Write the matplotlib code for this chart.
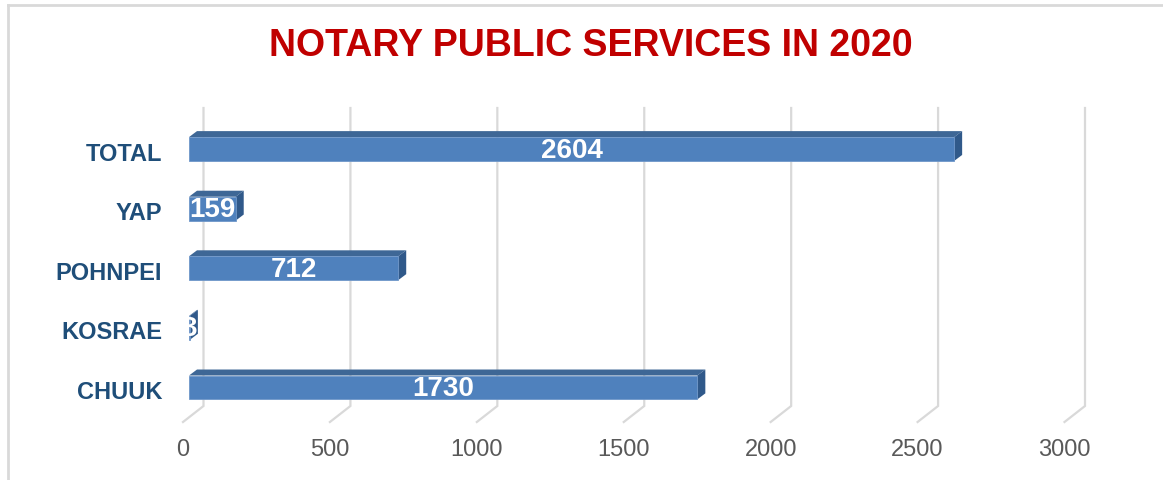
import matplotlib
matplotlib.use("Agg")
import matplotlib.pyplot as plt
from matplotlib.patches import Rectangle, Polygon
from matplotlib.lines import Line2D

categories = ["CHUUK", "KOSRAE", "POHNPEI", "YAP", "TOTAL"]
services = [1730, 3, 712, 159, 2604]
x_ticks = [0, 500, 1000, 1500, 2000, 2500, 3000]
tick_labels = ["0", "500", "1000", "1500", "2000", "2500", "3000"]
title = "NOTARY PUBLIC SERVICES IN 2020"

W, H = 1163, 480
fig = plt.figure(figsize=(W / 100, H / 100), dpi=100)
fig.patch.set_facecolor("white")

# chart border (top and left edges visible)
fig.add_artist(Line2D([8 / W, 8 / W], [0, 1 - 5 / H], transform=fig.transFigure,
                      color="#d9d9d9", lw=2))
fig.add_artist(Line2D([8 / W, 1], [1 - 5 / H, 1 - 5 / H], transform=fig.transFigure,
                      color="#d9d9d9", lw=2))

ax_left, ax_w = 189, 881.5
ax_top, ax_bot = 124, 422
ax = fig.add_axes([ax_left / W, 1 - ax_bot / H, ax_w / W, (ax_bot - ax_top) / H])
ax.set_xlim(0, 3000)
ylo, yhi = -0.58, 4.42
ax.set_ylim(ylo, yhi)
ax.axis("off")

px_x = ax_w / 3000.0               # pixels per data unit (x)
px_y = (ax_bot - ax_top) / (yhi - ylo)  # pixels per category (y)


def dx(p):
    return p / px_x


def dy(p):
    return p / px_y


# walls: back gridlines with slanted floor feet
back_dx, back_dy = dx(14.5), dy(16)
front_dx = dx(-6)
for t in x_ticks:
    xs = [t + back_dx, t + back_dx, t + front_dx]
    ys = [yhi + back_dy, ylo + back_dy, ylo]
    ax.add_line(Line2D(xs, ys, color="#d9d9d9", lw=1.6, zorder=1,
                       solid_joinstyle="miter", clip_on=False))

# 3D bars
bar_h = 0.40
depth_x, depth_y = dx(8), dy(6)
front_c, top_c, side_c = "#4F81BD", "#3E6796", "#30598A"
for i, v in enumerate(services):
    y0, y1 = i - bar_h / 2, i + bar_h / 2
    top = Polygon([(0, y1), (v, y1), (v + depth_x, y1 + depth_y), (depth_x, y1 + depth_y)],
                  closed=True, facecolor=top_c, edgecolor="none", zorder=3)
    side = Polygon([(v, y0), (v, y1), (v + depth_x, y1 + depth_y), (v + depth_x, y0 + depth_y)],
                   closed=True, facecolor=side_c, edgecolor="none", zorder=3)
    front = Rectangle((0, y0), v, bar_h, facecolor=front_c, edgecolor="#6f97c9",
                      lw=0.6, zorder=4)
    for p in (top, side, front):
        p.set_clip_on(False)
        ax.add_patch(p)
    ax.text(v / 2, i + dy(-1.5), str(v), ha="center", va="center", color="white",
            fontsize=20, fontweight="bold", family="Liberation Sans", zorder=6)
    ax.text(dx(162 - ax_left), i - dy(5), categories[i], ha="right", va="center",
            color="#1F4E79", fontsize=17, fontweight="bold", family="Liberation Sans")

# value axis labels on the front floor edge
for t, lab in zip(x_ticks, tick_labels):
    ax.text(t + front_dx, ylo - dy(28), lab, ha="center", va="center",
            color="#595959", fontsize=17, family="Liberation Sans")

fig.text(591 / W, 1 - 46 / H, title, ha="center", va="center", color="#C00000",
         fontsize=27, fontweight="bold", family="Liberation Sans")

fig.savefig("out.png", dpi=100, facecolor="white")
